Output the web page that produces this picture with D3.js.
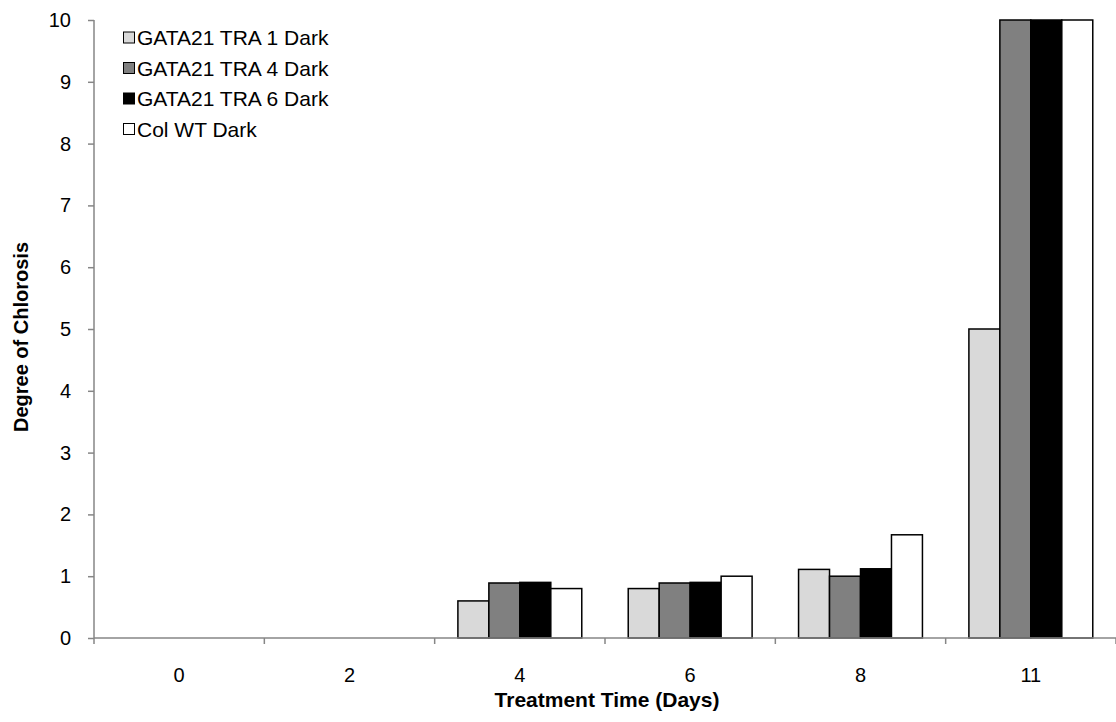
<!DOCTYPE html>
<html><head><meta charset="utf-8">
<script src="https://cdn.jsdelivr.net/npm/d3@7"></script>
<style>body{margin:0;background:#fff}svg{display:block;font-family:"Liberation Sans",Arial,sans-serif}</style>
</head><body><svg id="c" width="1116" height="722"></svg>
<script>
const categories = ["0","2","4","6","8","11"];
const seriesNames = ["GATA21 TRA 1 Dark","GATA21 TRA 4 Dark","GATA21 TRA 6 Dark","Col WT Dark"];
const tra1 = [0,0,0.6,0.8,1.11,5];
const tra4 = [0,0,0.89,0.89,1.0,10];
const tra6 = [0,0,0.9,0.9,1.12,10];
const colwt = [0,0,0.8,1.0,1.67,10];
const yTicks = [0,1,2,3,4,5,6,7,8,9,10];
const colors = ["#d9d9d9","#808080","#000000","#ffffff"];
const values = [tra1,tra4,tra6,colwt];

const svg = d3.select("#c");
const m = {l:94,r:1116,t:20,b:638};
const x = d3.scaleBand().domain(categories).range([m.l,m.r]);
const bw = x.bandwidth()/5.5;
const y = d3.scaleLinear().domain([0,10]).range([m.b,m.t]);

// bars
categories.forEach((c,i)=>{
  values.forEach((s,j)=>{
    const v=s[i]; if(!v) return;
    svg.append("rect")
      .attr("x", x(c)+0.75*bw+j*bw)
      .attr("y", y(v))
      .attr("width", bw)
      .attr("height", y(0)-y(v))
      .attr("fill", colors[j]).attr("stroke","#000").attr("stroke-width",1.5);
  });
});

// y axis
const ya = svg.append("g").attr("transform",`translate(${m.l},0)`)
  .call(d3.axisLeft(y).tickValues(yTicks).tickSize(6).tickPadding(17).tickFormat(d3.format("d")));
ya.select(".domain").attr("stroke","#868686").attr("stroke-width",1.5).attr("d",`M0,${m.t}V${m.b}`);
ya.selectAll(".tick line").attr("stroke","#868686").attr("stroke-width",1.5);
ya.selectAll("text").attr("font-size",20).attr("fill","#000").attr("font-family","Liberation Sans, Arial, sans-serif");

// x axis
const xa = svg.append("g").attr("transform",`translate(0,${m.b})`)
  .call(d3.axisBottom(x).tickSize(0));
xa.select(".domain").attr("stroke","#868686").attr("stroke-width",1.5).attr("d",`M${m.l},0H${m.r}`);
xa.selectAll("text").attr("font-size",20).attr("fill","#000").attr("font-family","Liberation Sans, Arial, sans-serif")
  .attr("dy",null).attr("y",44);
const bounds = categories.map(c=>x(c)).concat([m.r]);
xa.selectAll(".bt").data(bounds).enter().append("line").attr("class","bt")
  .attr("x1",d=>d).attr("x2",d=>d).attr("y1",0).attr("y2",6)
  .attr("stroke","#868686").attr("stroke-width",1.5);

// axis titles
svg.append("text").attr("x",607).attr("y",707).attr("text-anchor","middle")
  .attr("font-size",21).attr("font-weight","bold").text("Treatment Time (Days)");
svg.append("text").attr("transform",`translate(28,337) rotate(-90)`).attr("text-anchor","middle")
  .attr("font-size",20).attr("font-weight","bold").text("Degree of Chlorosis");

// legend
seriesNames.forEach((n,i)=>{
  const ly = 37.5 + i*30.5;
  svg.append("rect").attr("x",123.5).attr("y",ly-5.5).attr("width",11).attr("height",11)
    .attr("fill",colors[i]).attr("stroke","#000").attr("stroke-width",1);
  svg.append("text").attr("x",137).attr("y",ly+7.5).attr("font-size",21).text(n);
});
</script></body></html>
